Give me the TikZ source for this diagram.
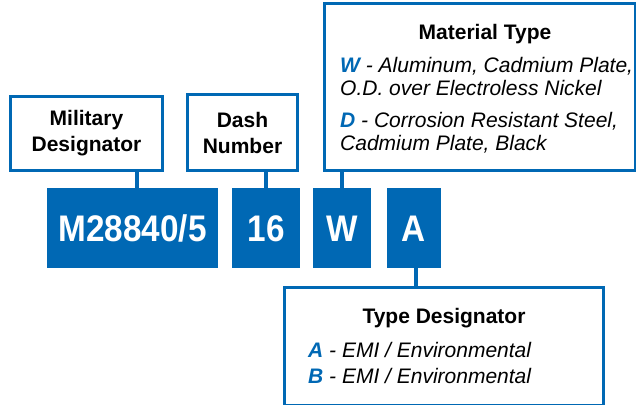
\documentclass[tikz,border=0pt]{standalone}
\usepackage{fontspec}
\setmainfont{Liberation Sans}
\usepackage{graphicx}
\definecolor{partblue}{HTML}{0068B4}
\newcommand{\keyletter}[1]{\textcolor{partblue}{\bfseries #1}}

\begin{document}
\begin{tikzpicture}[x=1pt, y=-1pt,
    codebox/.style={fill=partblue, text=white, inner sep=0pt, minimum height=80pt,
        font=\fontsize{37}{37}\selectfont\bfseries, text height=26.5pt, text depth=0pt},
    infobox/.style={draw=partblue, line width=3pt, fill=white, inner sep=0pt},
    stem/.style={draw=partblue, line width=4.5pt},
    title/.style={font=\fontsize{21}{26}\selectfont\bfseries, align=center},
    item/.style={font=\fontsize{21}{22}\selectfont\itshape, anchor=base west, inner sep=0pt}]
    \clip (0,0) rectangle (636,404);

    % part number blocks
    \node[codebox, minimum width=171pt] (codeM) at (132.5,228) {\scalebox{0.9}[1]{M28840/5}};
    \node[codebox, minimum width=68pt] (code16) at (266,228) {\scalebox{0.9}[1]{16}};
    \node[codebox, minimum width=58pt] (codeW) at (342,228) {\scalebox{0.9}[1]{W}};
    \node[codebox, minimum width=54pt] (codeA) at (414,228) {\scalebox{0.9}[1]{A}};

    % explanation boxes
    \node[infobox, title, minimum width=152pt, minimum height=74pt] (milbox) at (86.5,133.5) {Military\\Designator};
    \node[infobox, title, minimum width=110pt, minimum height=76pt] (dashbox) at (242.5,132.5) {Dash\\Number};
    \node[infobox, minimum width=310.5pt, minimum height=167pt] (matbox) at (479.75,87) {};
    \node[infobox, minimum width=319pt, minimum height=118pt] (typebox) at (444,346.5) {};

    % material type text
    \node[title, anchor=base] (mattitle) at (485,40) {Material Type};
    \node[item] (matW) at (340,72) {\keyletter{W} - Aluminum, Cadmium Plate,};
    \node[item] (matW2) at (340,95) {O.D. over Electroless Nickel};
    \node[item] (matD) at (340,127) {\keyletter{D} - Corrosion Resistant Steel,};
    \node[item] (matD2) at (340,150) {Cadmium Plate, Black};

    % type designator text
    \node[title, anchor=base] (typetitle) at (444,323) {Type Designator};
    \node[item] (typeA) at (308,357) {\keyletter{A} - EMI / Environmental};
    \node[item] (typeB) at (308,383) {\keyletter{B} - EMI / Environmental};

    % stems
    \draw[stem] ([xshift=4.5pt]codeM.north) -- ([xshift=4.5pt]codeM.north |- milbox.south);
    \draw[stem] (code16.north) -- (code16.north |- dashbox.south);
    \draw[stem] (codeW.north) -- (codeW.north |- matbox.south);
    \draw[stem] ([xshift=2pt]codeA.south) -- ([xshift=2pt]codeA.south |- typebox.north);
\end{tikzpicture}
\end{document}
